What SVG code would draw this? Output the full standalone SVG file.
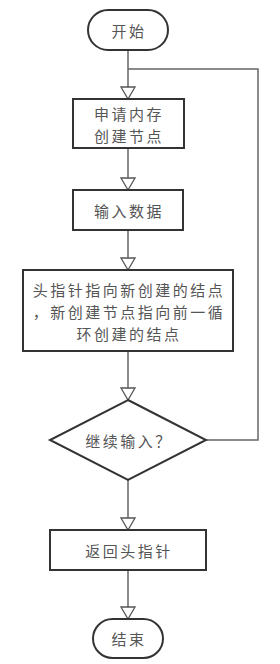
<svg xmlns="http://www.w3.org/2000/svg" width="280" height="664" viewBox="0 0 280 664">
<style>
.node{fill:#fff;stroke:#333;stroke-width:2}
.t{font-family:"Noto Sans CJK SC","Noto Sans",sans-serif;font-size:15px;fill:#555;text-anchor:middle;dominant-baseline:central;letter-spacing:2.5px}
.c{fill:none;stroke:#666;stroke-width:1.5}
</style>
<defs>
<marker id="ar" markerUnits="userSpaceOnUse" markerWidth="14" markerHeight="16" refX="13" refY="8" orient="auto" viewBox="0 0 14 16">
<path d="M1,1 L13,8 L1,15 z" fill="#fff" stroke="#555" stroke-width="1.3"/>
</marker>
</defs>
<g id="connectors">
<path class="c" d="M128,50 V99" marker-end="url(#ar)"/>
<path class="c" d="M128,148 V190" marker-end="url(#ar)"/>
<path class="c" d="M128,230 V270" marker-end="url(#ar)"/>
<path class="c" d="M128,351 V400" marker-end="url(#ar)"/>
<path class="c" d="M128,480 V530" marker-end="url(#ar)"/>
<path class="c" d="M128,570 V619" marker-end="url(#ar)"/>
<path class="c" d="M206,440 H258 V69 H128"/>
</g>
<g id="start">
<rect class="node" x="88" y="10" width="80" height="40" rx="20" ry="20"/>
<text class="t" x="129" y="30">开始</text>
</g>
<g id="alloc">
<rect class="node" x="73" y="99" width="111" height="49"/>
<text class="t" x="129" y="113">申请内存</text>
<text class="t" x="129" y="135">创建节点</text>
</g>
<g id="input">
<rect class="node" x="73" y="190" width="110" height="40"/>
<text class="t" x="129" y="210">输入数据</text>
</g>
<g id="link">
<rect class="node" x="23" y="270" width="210" height="81"/>
<text class="t" x="129" y="289">头指针指向新创建的结点</text>
<text class="t" x="129" y="311">，新创建节点指向前一循</text>
<text class="t" x="129" y="333">环创建的结点</text>
</g>
<g id="decision">
<polygon class="node" points="128,400 206,440 128,480 50,440"/>
<text class="t" x="129" y="440">继续输入？</text>
</g>
<g id="return">
<rect class="node" x="50" y="530" width="156" height="40"/>
<text class="t" x="129" y="550">返回头指针</text>
</g>
<g id="end">
<rect class="node" x="93" y="619" width="70" height="39" rx="19.5" ry="19.5"/>
<text class="t" x="129" y="638.5">结束</text>
</g>
</svg>
